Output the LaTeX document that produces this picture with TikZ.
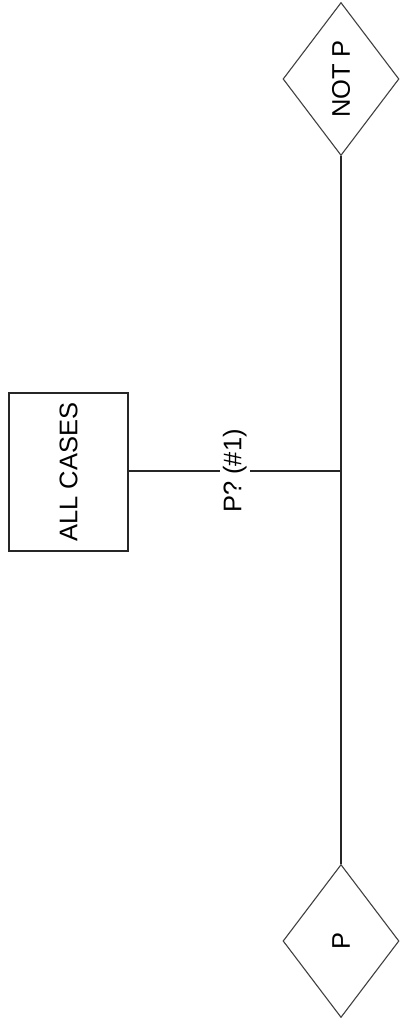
\documentclass[tikz,border=0pt]{standalone}
\usepackage{fontspec}
\setmainfont{Liberation Sans}
\usetikzlibrary{shapes.geometric}
\begin{document}
\begin{tikzpicture}[x=1pt,y=-1pt,
  every node/.style={font=\fontsize{25.5}{30}\selectfont},
  line/.style={draw=black!85, line width=1.1pt},
  choice/.style={diamond, draw=black!75, line width=1.1pt, minimum width=116pt, minimum height=153pt, inner sep=0pt},
  casebox/.style={rectangle, draw=black!85, line width=1.1pt, minimum width=119pt, minimum height=158pt, inner sep=0pt},
  lbl/.style={fill=white, inner sep=3pt}]
\useasboundingbox[fill=white] (0,0) rectangle (399,1024);
\node[choice] (notp) at (341,79) {\rotatebox{90}{NOT P}};
\node[choice] (p) at (341,941) {\rotatebox{90}{P}};
\node[casebox] (all) at (68.5,472) {\rotatebox{90}{ALL CASES}};
\coordinate (j) at (341,471);
\draw[line] (notp.south) -- (p.north);
\draw[line] (all.east |- j) -- node[lbl, rotate=90] (q) {P? (\#1)} (j);
\end{tikzpicture}
\end{document}
